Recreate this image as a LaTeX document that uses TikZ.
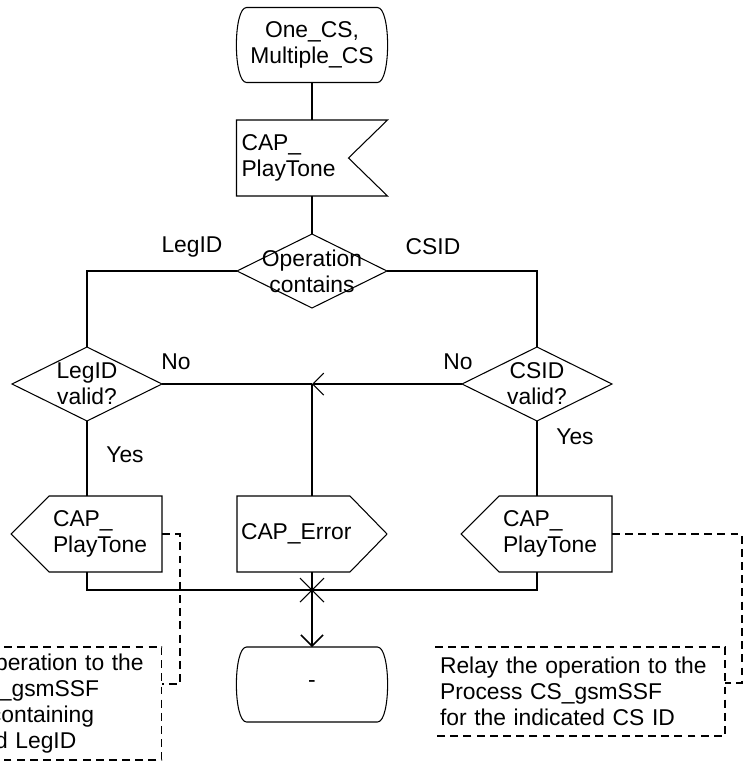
\documentclass[tikz,border=0pt]{standalone}
\usepackage{fontspec}
\setmainfont{Liberation Sans}
\usepackage{tikz}
\usetikzlibrary{arrows.meta,calc}

\begin{document}
\begin{tikzpicture}[x=0.02cm,y=-0.02cm,
          every node/.style={font=\fontsize{13}{14.8}\selectfont},
          line/.style={line width=0.6pt},
          term/.style={minimum width=3.02cm,minimum height=1.5cm,
                       align=center,inner sep=2pt,outer sep=0pt},
          insig/.style={minimum width=3.02cm,minimum height=1.52cm,
                        text width=2.82cm,inner xsep=0.1cm,outer sep=0pt,align=left},
          outsig/.style={minimum width=2.26cm,minimum height=1.52cm,
                         text width=2.1cm,inner xsep=0.08cm,outer sep=0pt,align=left},
          decision/.style={minimum width=3cm,minimum height=1.48cm,
                           inner sep=0pt,outer sep=0pt,align=center},
          note/.style={text width=5.6cm,inner xsep=0.1cm,outer sep=0pt,align=left},
          cmt/.style={line width=0.6pt,dash pattern=on 4.5pt off 3pt},
          arr/.style={-{Straight Barb[length=0.22cm,width=0.44cm]},line width=0.9pt},
      ]
        \useasboundingbox (0,0) rectangle (744,765);
        \fill[white] (0,0) rectangle (744,765);
        \clip (0,0) rectangle (744,765);

        \node[term] (start) at (312,45) {One\_CS,\\Multiple\_CS};
        \node[insig] (tone) at (312,158) {CAP\_\\PlayTone};
        \node[decision] (op) at (312,271) {Operation\\contains};
        \node[decision] (legok) at (87,384) {LegID\\valid?};
        \node[decision] (csok) at (537,384) {CSID\\valid?};
        \node[outsig] (legtone) at (105.5,534) {CAP\_\\PlayTone};
        \node[outsig] (err) at (293.5,534) {CAP\_Error};
        \node[outsig] (cstone) at (555.5,534) {CAP\_\\PlayTone};
        \node[term] (stop) at (312,684.5) {-};
        \node[note,minimum height=2.26cm] (legnote) at (17,703.5)
          {Relay the operation to the\\Process CS\_gsmSSF\\for the CS containing\\the indicated LegID};
        \node[note,minimum height=1.78cm] (csnote) at (580,691.5)
          {Relay the operation to the\\Process CS\_gsmSSF\\for the indicated CS ID};
        \coordinate (jn) at (312,384);
        \coordinate (jb) at (312,590);

        \node (lleg) at (192,247) {LegID};
        \node (lcs) at (433,247) {CSID};
        \node (lno1) at (176,362) {No};
        \node (lno2) at (458,362) {No};
        \node (lyes1) at (125,455) {Yes};
        \node (lyes2) at (575,437) {Yes};

        \foreach \n in {start,stop}
          \draw[line] ([xshift=0.2cm]\n.north west) -- ([xshift=-0.2cm]\n.north east)
            .. controls ([xshift=0.07cm]\n.north east) and ([xshift=0.07cm]\n.south east)
            .. ([xshift=-0.2cm]\n.south east) -- ([xshift=0.2cm]\n.south west)
            .. controls ([xshift=-0.07cm]\n.south west) and ([xshift=-0.07cm]\n.north west)
            .. ([xshift=0.2cm]\n.north west) -- cycle;
        \draw[line] (tone.north west) -- (tone.north east) -- ([xshift=-0.78cm]tone.east)
          -- (tone.south east) -- (tone.south west) -- cycle;
        \foreach \n in {op,legok,csok}
          \draw[line] (\n.north) -- (\n.east) -- (\n.south) -- (\n.west) -- cycle;
        \foreach \n in {legtone,cstone}
          \draw[line] (\n.north west) -- (\n.north east) -- (\n.south east)
            -- (\n.south west) -- ([xshift=-0.76cm]\n.west) -- cycle;
        \draw[line] (err.north west) -- (err.north east) -- ([xshift=0.74cm]err.east)
          -- (err.south east) -- (err.south west) -- cycle;

        \draw[line] (start.south) -- (tone.north);
        \draw[line] (tone.south) -- (op.north);
        \draw[line] (op.west) -| (legok.north);
        \draw[line] (op.east) -| (csok.north);
        \draw[line] (legok.east) -- (jn);
        \draw[arr,line width=0.6pt] (csok.west) -- (jn);
        \draw[line width=0.9pt] (err.north -| jn) -- (jn);
        \draw[line] (legok.south) -- (legok.south |- legtone.north);
        \draw[line] (csok.south) -- (csok.south |- cstone.north);
        \draw[line] (legok.south |- legtone.south) |- (jb);
        \draw[line] (csok.south |- cstone.south) |- (jb);
        \draw[line] (err.south -| jb) -- (jb);
        \draw[line] ([shift={(-12,-12)}]jb) -- ([shift={(12,12)}]jb)
          ([shift={(-12,12)}]jb) -- ([shift={(12,-12)}]jb);
        \draw[arr] (jb) -- (stop.north);

        \draw[cmt] (legnote.north west) -- (legnote.north east) -- (legnote.south east) -- (legnote.south west);
        \draw[cmt] (csnote.north west) -- (csnote.north east) -- (csnote.south east) -- (csnote.south west);
        \draw[cmt] (legtone.east) -- ++(18,0) |- ([yshift=0.39cm]legnote.east);
        \draw[cmt] (cstone.east) -- ++(130,0) |- ([yshift=0.17cm]csnote.east);
      \end{tikzpicture}
\end{document}
